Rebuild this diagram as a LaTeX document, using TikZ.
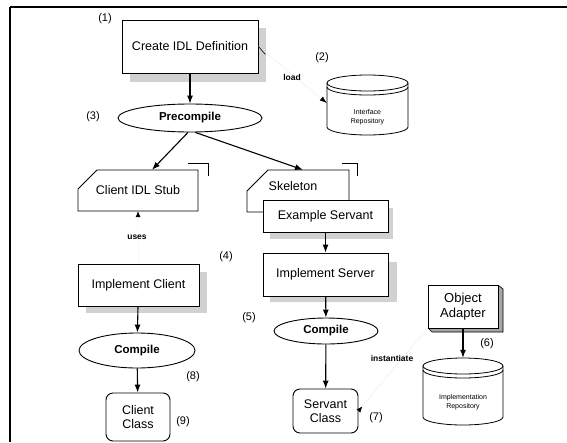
\documentclass[tikz,border=0pt]{standalone}
\usepackage{fontspec}
\setmainfont{Liberation Sans}
\usetikzlibrary{arrows.meta,calc,shapes.geometric}
\begin{document}
\begin{tikzpicture}[x=1pt,y=-1pt,
  every node/.style={font=\fontsize{12.5}{14.5}\selectfont, inner sep=0pt},
  box/.style={draw, line width=0.9pt, fill=white},
  ell/.style={draw, ellipse, line width=0.9pt, fill=white, font=\bfseries\fontsize{11.5}{13}\selectfont},
  cls/.style={draw, line width=0.9pt, fill=white, rounded corners=7pt, align=center},
  shd/.style={fill=black!18, draw=none},
  arr/.style={line width=1.1pt, -{Latex[length=8pt,width=6pt]}},
  faint/.style={draw=black!7, line width=0.5pt},
  num/.style={font=\fontsize{11}{13}\selectfont},
  lbl/.style={font=\bfseries\fontsize{8.5}{10}\selectfont},
  small/.style={font=\fontsize{7}{9}\selectfont, align=center}]
\useasboundingbox (0,0) rectangle (567,442);
% frame
\draw[line width=1.8pt] (10,7) -- (567,7);
\draw[line width=1.1pt] (10,7) -- (10,442);

% shadows
\fill[shd] (130,28) rectangle (266,82);
\fill[shd] (270,208) rectangle (393,239);
\fill[shd] (270,262) rectangle (397,302);
\fill[shd] (86,272) rectangle (207,313);

% nodes
\node[box, minimum width=136, minimum height=53] (idl) at (190,46.5) {Create IDL Definition};
\node[ell, minimum width=144, minimum height=28] (prec) at (190,118) {Precompile};

\node[minimum width=120, minimum height=41] (stub) at (138,190.5) {};
\draw[line width=0.9pt] (78,211) -- (78,189) -- (97,170) -- (198,170) -- (198,211) -- cycle;
\node (stubtxt) at (138,190) {Client IDL Stub};
\draw[line width=0.8pt] (188,163) -- (208,163) -- (208,176);

\node[minimum width=102, minimum height=42] (skel) at (298,191) {};
\draw[line width=0.9pt] (263,212) -- (247,212) -- (247,191) -- (268,170) -- (349,170) -- (349,201);
\node (skeltxt) at (293,186) {Skeleton};
\draw[line width=0.8pt] (342,163) -- (357,163) -- (357,176);

\node[box, minimum width=125, minimum height=32] (exs) at (325.5,216) {Example Servant};
\node[box, minimum width=125, minimum height=43] (imps) at (325.5,274.5) {Implement Server};
\node[box, minimum width=121, minimum height=42] (impc) at (138.5,285) {Implement Client};
\node[ell, minimum width=116, minimum height=35] (compL) at (137,350.5) {Compile};
\node[ell, minimum width=104, minimum height=26] (compR) at (326,331) {Compile};
\node[cls, minimum width=64, minimum height=48] (ccls) at (138,417) {Client\\Class};
\node[cls, minimum width=65, minimum height=44] (scls) at (325.5,411) {Servant\\Class};

% object adapter (3D box)
\fill[black!35] (498,285) -- (503,289) -- (503,332) -- (432,332) -- (428,328) -- (498,328) -- cycle;
\draw[line width=0.6pt] (498,285) -- (503,289) -- (503,332) -- (432,332) -- (428,328);
\node[box, minimum width=70, minimum height=43, align=center, font=\fontsize{13}{15}\selectfont] (oa) at (463,306.5) {Object\\Adapter};

% cylinders
\node[minimum width=81, minimum height=60] (ir1) at (367.5,105) {};
\draw[line width=0.8pt, fill=white] (327,83) -- (327,127) arc[start angle=180, end angle=0, x radius=40.5, y radius=8]
  -- (408,83) arc[start angle=0, end angle=-180, x radius=40.5, y radius=8] -- cycle;
\draw[line width=0.8pt] (327,83) arc[start angle=180, end angle=0, x radius=40.5, y radius=8];
\draw[line width=0.8pt] (327,87) arc[start angle=180, end angle=0, x radius=40.5, y radius=8];
\node[small] (ir1txt) at (367.5,117) {Interface\\Repository};

\node[minimum width=80, minimum height=67] (ir2) at (463,391.5) {};
\draw[line width=0.8pt, fill=white] (423,366) -- (423,417) arc[start angle=180, end angle=0, x radius=40, y radius=8]
  -- (503,366) arc[start angle=0, end angle=-180, x radius=40, y radius=8] -- cycle;
\draw[line width=0.8pt] (423,366) arc[start angle=180, end angle=0, x radius=40, y radius=8];
\draw[line width=0.8pt] (423,370) arc[start angle=180, end angle=0, x radius=40, y radius=8];
\node[small] (ir2txt) at (463,402) {Implementation\\Repository};

% connectors
\draw[arr] (idl) -- (prec);
\draw[arr] (prec.262) -- ($(stub.north)+(14,0)$);
\draw[arr] (prec.290) -- ($(skel.north)+(5,0)$);
\draw[arr] (exs) -- (imps);
\draw[arr] (imps) -- (compR);
\draw[arr] (compR) -- (scls);
\draw[arr] (impc) -- (compL);
\draw[arr] (compL) -- (ccls);
\draw[arr] (oa) -- (ir2.north);
\draw[faint, -{Latex[length=7pt,width=5pt,color=black]}] (idl.east) -- ($(ir1.west)+(0,-2)$);
\draw[line width=0.6pt] (idl.east) -- ++(7,8);
\draw[faint, dashed, -{Latex[length=6pt,width=5pt,color=black]}] (impc.north) -- (stub.south);
\draw[faint, {Latex[reversed,length=6pt,width=5pt,color=black]}-] (scls.east) -- (oa.south west);

% labels
\node[num] (n1) at (105,19) {(1)};
\node[num] (n2) at (322,58) {(2)};
\node[lbl] (lload) at (292,77) {load};
\node[num] (n3) at (93,117) {(3)};
\node[lbl] (luses) at (137,237) {uses};
\node[num] (n4) at (226,257) {(4)};
\node[num] (n5) at (249,318) {(5)};
\node[num] (n6) at (487,344) {(6)};
\node[lbl] (linst) at (392,358) {instantiate};
\node[num] (n7) at (376,418) {(7)};
\node[num] (n8) at (193,377) {(8)};
\node[num] (n9) at (183,422) {(9)};
\end{tikzpicture}
\end{document}
